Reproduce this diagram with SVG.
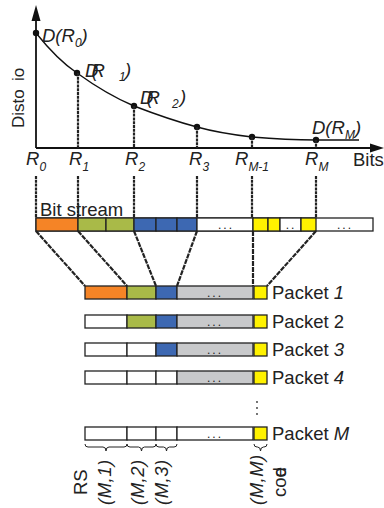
<svg xmlns="http://www.w3.org/2000/svg" width="384" height="508" viewBox="0 0 384 508">
<style>
text{font-family:"Liberation Sans",Arial,sans-serif;fill:#222}
.t{font-size:18.5px}
.i{font-style:italic}
.s{font-size:12px;font-style:italic}
.dots{font-size:12px;letter-spacing:2px;text-anchor:middle}
.box{stroke:#222;stroke-width:1.3}
.w{fill:#fff}.o{fill:#F58426}.g{fill:#A9BA48}.b{fill:#3D68B2}.gr{fill:#C8C9CB}.y{fill:#FFF200}
.ax{stroke:#111;stroke-width:1.8;fill:none}
.dl{stroke:#222;stroke-width:2.2;stroke-dasharray:3 0.8;fill:none}
.cl{stroke:#222;stroke-width:2.2;stroke-dasharray:5 1;fill:none}
.br{stroke:#222;stroke-width:1;fill:none}
</style>
<g id="chart">
<line class="ax" x1="36" y1="18" x2="36" y2="148"/>
<polygon points="36,5 31.5,21 40.5,21" fill="#111"/>
<line class="ax" x1="36" y1="148" x2="372" y2="148"/>
<polygon points="384,148 370,143.5 370,152.5" fill="#111"/>
<path d="M36,33 C48,48 62,63 77,73 C95,86 115,98 134,106 C160,116 178,122 197,127 C215,132 235,135 252,137 C275,139 295,140 316,140 L359,140" stroke="#111" stroke-width="1.4" fill="none"/>
<g fill="#111">
<circle cx="36" cy="33" r="3.2"/><circle cx="77" cy="73" r="3.2"/><circle cx="134" cy="106" r="3.2"/><circle cx="197" cy="127" r="3.2"/><circle cx="252" cy="137" r="3.2"/><circle cx="316" cy="140" r="3.2"/>
</g>
<g class="dl">
<line x1="78" y1="73" x2="78" y2="148"/><line x1="134" y1="106" x2="134" y2="148"/><line x1="197" y1="127" x2="197" y2="148"/><line x1="252" y1="137" x2="252" y2="148"/><line x1="316" y1="140" x2="316" y2="148"/>
</g>
<text x="24" y="128" transform="rotate(-90 24 128)" font-size="17px">Disto</text>
<text x="24" y="81" transform="rotate(-90 24 81)" font-size="17px">io</text>
<text class="t i" x="42" y="42">D(R<tspan class="s" dy="5">0</tspan><tspan dy="-5">)</tspan></text>
<text class="t i" x="85" y="77" letter-spacing="-6.5">D(R</text>
<text class="s" x="119" y="81">1</text><text class="t i" x="125" y="76">)</text>
<text class="t i" x="140" y="104" letter-spacing="-6.5">D(R</text>
<text class="s" x="172" y="108">2</text><text class="t i" x="180" y="103">)</text>
<text class="t i" x="312" y="134">D(R<tspan class="s" dy="5">M</tspan><tspan dy="-5">)</tspan></text>
<text class="t i" x="26" y="165">R<tspan class="s" dy="6">0</tspan></text>
<text class="t i" x="69" y="165">R<tspan class="s" dy="6">1</tspan></text>
<text class="t i" x="125" y="165">R<tspan class="s" dy="6">2</tspan></text>
<text class="t i" x="189" y="165">R<tspan class="s" dy="6">3</tspan></text>
<text class="t i" x="235" y="165">R<tspan class="s" dy="6">M-1</tspan></text>
<text class="t i" x="305" y="165">R<tspan class="s" dy="6">M</tspan></text>
<text class="t" x="353" y="166">Bits</text>
</g>
<g id="bitstream">
<text class="t" x="40" y="216">Bit stream</text>
<rect class="box w" x="36" y="218" width="337" height="13"/>
<rect class="box o" x="36" y="218" width="42" height="13"/>
<rect class="box g" x="78" y="218" width="28" height="13"/>
<rect class="box g" x="106" y="218" width="28" height="13"/>
<rect class="box b" x="134" y="218" width="22" height="13"/>
<rect class="box b" x="156" y="218" width="21" height="13"/>
<rect class="box b" x="177" y="218" width="20" height="13"/>
<rect class="box w" x="197" y="218" width="56" height="13"/>
<rect class="box y" x="253" y="218" width="15" height="13"/>
<rect class="box y" x="268" y="218" width="12" height="13"/>
<rect class="box w" x="280" y="218" width="21" height="13"/>
<rect class="box y" x="301" y="218" width="15" height="13"/>
<text class="dots" x="226" y="229">...</text>
<text class="dots" x="291" y="229">..</text>
<text class="dots" x="345" y="229">...</text>
</g>
<g id="connectors">
<g class="dl">
<line x1="36" y1="176" x2="36" y2="218"/><line x1="78" y1="176" x2="78" y2="218"/><line x1="134" y1="176" x2="134" y2="218"/><line x1="197" y1="176" x2="197" y2="218"/><line x1="252" y1="176" x2="252" y2="218"/><line x1="316" y1="176" x2="316" y2="218"/>
</g>
<g class="cl">
<line x1="36" y1="231" x2="85" y2="286"/>
<line x1="78" y1="231" x2="127" y2="286"/>
<line x1="134" y1="231" x2="156" y2="286"/>
<line x1="197" y1="231" x2="177" y2="286"/>
<line x1="253" y1="231" x2="253" y2="286"/>
<line x1="316" y1="231" x2="267" y2="286"/>
</g>
</g>
<g id="packet1">
<rect class="box o" x="85" y="286" width="42" height="13"/>
<rect class="box g" x="127" y="286" width="29" height="13"/>
<rect class="box b" x="156" y="286" width="21" height="13"/>
<rect class="box gr" x="177" y="286" width="76" height="13"/>
<rect class="box y" x="254" y="286" width="13" height="13"/>
<text class="dots" x="215" y="297">...</text>
<text class="t" x="272" y="299">Packet <tspan class="i">1</tspan></text>
</g>
<g id="packet2">
<rect class="box w" x="85" y="315" width="42" height="13"/>
<rect class="box g" x="127" y="315" width="29" height="13"/>
<rect class="box b" x="156" y="315" width="21" height="13"/>
<rect class="box gr" x="177" y="315" width="76" height="13"/>
<rect class="box y" x="254" y="315" width="13" height="13"/>
<text class="dots" x="215" y="326">...</text>
<text class="t" x="272" y="328">Packet 2</text>
</g>
<g id="packet3">
<rect class="box w" x="85" y="343" width="42" height="13"/>
<rect class="box w" x="127" y="343" width="29" height="13"/>
<rect class="box b" x="156" y="343" width="21" height="13"/>
<rect class="box gr" x="177" y="343" width="76" height="13"/>
<rect class="box y" x="254" y="343" width="13" height="13"/>
<text class="dots" x="215" y="354">...</text>
<text class="t" x="272" y="356">Packet <tspan class="i">3</tspan></text>
</g>
<g id="packet4">
<rect class="box w" x="85" y="371" width="42" height="13"/>
<rect class="box w" x="127" y="371" width="29" height="13"/>
<rect class="box w" x="156" y="371" width="21" height="13"/>
<rect class="box gr" x="177" y="371" width="76" height="13"/>
<rect class="box y" x="254" y="371" width="13" height="13"/>
<text class="dots" x="215" y="382">...</text>
<text class="t" x="272" y="384">Packet <tspan class="i">4</tspan></text>
</g>
<g id="vdots" fill="#333">
<circle cx="257" cy="402" r="0.9"/><circle cx="257" cy="408" r="0.9"/><circle cx="257" cy="414" r="0.9"/>
</g>
<g id="packetM">
<rect class="box w" x="85" y="427" width="42" height="13"/>
<rect class="box w" x="127" y="427" width="29" height="13"/>
<rect class="box w" x="156" y="427" width="21" height="13"/>
<rect class="box w" x="177" y="427" width="76" height="13"/>
<rect class="box y" x="254" y="427" width="13" height="13"/>
<text class="dots" x="215" y="438">...</text>
<text class="t" x="272" y="440">Packet <tspan class="i">M</tspan></text>
</g>
<g id="braces">
<path class="br" d="M85,444 q0,3 3,3 L103,447 q3,0 3,4 q0,-4 3,-4 L124,447 q3,0 3,-3"/>
<path class="br" d="M127,444 q0,3 3,3 L138.5,447 q3,0 3,4 q0,-4 3,-4 L153,447 q3,0 3,-3"/>
<path class="br" d="M156,444 q0,3 3,3 L163.5,447 q3,0 3,4 q0,-4 3,-4 L174,447 q3,0 3,-3"/>
<path class="br" d="M254,444 q0,3 3,3 L257.5,447 q3,0 3,4 q0,-4 3,-4 L264,447 q3,0 3,-3"/>
</g>
<g id="labels">
<text class="t" x="87" y="495" transform="rotate(-90 87 495)">RS</text>
<text class="t i" x="111" y="505" transform="rotate(-90 111 505)" letter-spacing="0.5">(M,1)</text>
<text class="t i" x="144" y="505" transform="rotate(-90 144 505)" letter-spacing="0.5">(M,2)</text>
<text class="t i" x="168" y="505" transform="rotate(-90 168 505)" letter-spacing="0.5">(M,3)</text>
<text class="t i" x="263" y="505" transform="rotate(-90 263 505)" letter-spacing="0.5">(M,M)</text>
<text class="t" x="286" y="497" transform="rotate(-90 286 497)">co<tspan>d</tspan><tspan dx="-10">e</tspan></text>
</g>
</svg>
